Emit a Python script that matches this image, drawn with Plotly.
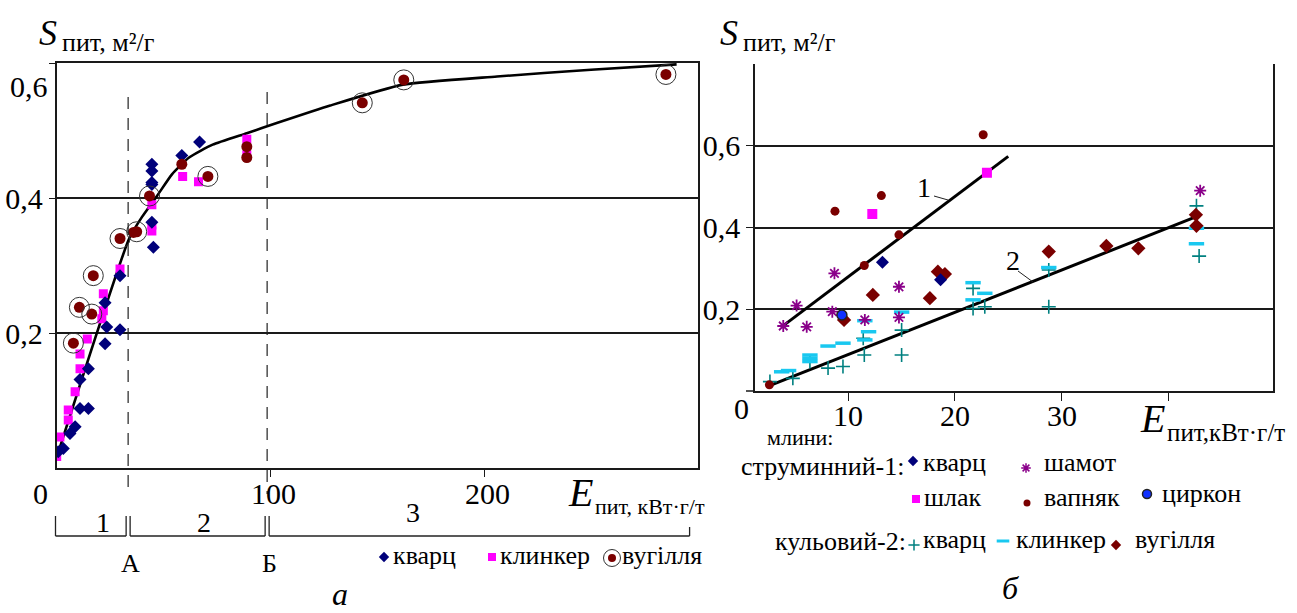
import plotly.graph_objects as go

W, H = 1297, 613
FONT = "Liberation Serif, Times New Roman, Times, DejaVu Serif, serif"
BLACK = "#1a1a1a"

# ---------------- panel a data ----------------
a_quartz_x = [0.8, 3.2, 6.3, 8.7, 11, 14.9, 11, 14.9, 22.7, 23.5, 29.7, 22.7, 29.7,
              44.6, 44.6, 45.3, 44.6, 44.6, 44.6, 58.6, 66.9]
a_quartz_y = [0.024, 0.029, 0.051, 0.061, 0.088, 0.088, 0.131, 0.147, 0.184, 0.209, 0.205, 0.245, 0.285,
              0.42, 0.364, 0.327, 0.45, 0.44, 0.423, 0.463, 0.483]
a_clinker_x = [0.1, 1.6, 5.5, 5.5, 8.7, 11, 11, 14.4, 21.2, 21.9, 21.9, 29.7, 44.6, 44.6, 44.6,
               59, 66.4, 89, 89]
a_clinker_y = [0.017, 0.046, 0.071, 0.086, 0.113, 0.147, 0.169, 0.191, 0.221, 0.233, 0.258, 0.295, 0.351, 0.36, 0.39,
               0.432, 0.424, 0.487, 0.464]
a_coal_x = [7.9, 10.7, 16.5, 17.2, 29.7, 36.0, 37.5, 43.5, 58.6, 70.8, 89, 89, 143, 162.4, 285]
a_coal_y = [0.185, 0.238, 0.228, 0.285, 0.34, 0.349, 0.35, 0.403, 0.45, 0.432, 0.476, 0.46, 0.541, 0.575, 0.583]
a_coal_circled = [1, 1, 1, 1, 1, 0, 1, 1, 0, 1, 0, 0, 1, 1, 1]
a_curve_x = [0, 34, 40, 47, 54, 62, 73, 89, 103, 128, 162, 206, 250, 290]
a_curve_y = [0.015, 0.34, 0.372, 0.403, 0.435, 0.46, 0.479, 0.496, 0.511, 0.537, 0.568, 0.58, 0.59, 0.598]
a_boundaries = [33.5, 98.5]
a_boundary_labels = ["А", "Б"]
a_zone_labels = ["1", "2", "3"]
a_xticks = [0, 100, 200]
a_xtick_text = ["0", "100", "200"]
a_yticks = [0.2, 0.4, 0.6]
a_ytick_text = ["0,2", "0,4", ""]

# ---------------- panel b data ----------------
b_quartz1_x = [13.2, 18.65]
b_quartz1_y = [0.315, 0.272]
b_chamotte_x = [3.9, 5.15, 6.1, 8.7, 8.5, 11.55, 14.75, 14.75, 43.0]
b_chamotte_y = [0.159, 0.209, 0.157, 0.288, 0.194, 0.174, 0.255, 0.18, 0.49]
b_slag_x = [12.25, 23.0]
b_slag_y = [0.433, 0.534]
b_lime_x = [22.65, 13.1, 8.75, 14.75, 11.5, 2.6]
b_lime_y = [0.627, 0.478, 0.44, 0.382, 0.307, 0.015]
b_zircon_x = [9.4]
b_zircon_y = [0.186]
b_quartz2_x = [2.65, 4.8, 6.4, 8.1, 9.5, 11.5, 11.4, 15.0, 15.0, 21.7, 21.7, 22.8, 28.8, 28.8, 42.65, 42.9]
b_quartz2_y = [0.023, 0.031, 0.072, 0.056, 0.06, 0.088, 0.129, 0.088, 0.149, 0.202, 0.251, 0.206, 0.206, 0.296, 0.453, 0.33]
b_clinker2_x = [3.75, 4.4, 6.4, 6.4, 6.4, 8.1, 9.5, 11.55, 11.9, 11.55, 15.0, 21.7, 21.7, 22.8, 28.8, 42.65, 42.65]
b_clinker2_y = [0.047, 0.05, 0.088, 0.08, 0.072, 0.11, 0.117, 0.125, 0.145, 0.172, 0.193, 0.265, 0.223, 0.239, 0.302, 0.398, 0.36]
b_coal2_x = [9.6, 12.3, 17.65, 18.4, 19.06, 28.8, 34.2, 37.2, 42.65, 42.6]
b_coal2_y = [0.174, 0.235, 0.227, 0.292, 0.286, 0.341, 0.355, 0.349, 0.404, 0.431]
b_line1_x = [3.75, 25.0]
b_line1_y = [0.157, 0.574]
b_line2_x = [2.5, 42.7]
b_line2_y = [0.012, 0.427]
b_xticks = [10, 20, 30, 40]
b_xtick_text = ["10", "20", "30", ""]
b_yticks = [0.2, 0.4, 0.6]
b_ytick_text = ["0,2", "0,4", "0,6"]

# ---------------- geometry (pixels) ----------------
A_L, A_R, A_B, A_T = 56.5, 698.0, 468.0, 63.0
A_XR, A_YR = [0, 300], [0, 0.6]
B_L, B_R, B_B, B_T = 755.0, 1272.7, 391.0, 64.0
B_XR, B_YR = [1.25, 49.8], [0, 0.8]


def ax_px(v):
    return A_L + (v - A_XR[0]) / (A_XR[1] - A_XR[0]) * (A_R - A_L)


def px(xp):
    return xp / W


def py(yp):
    return 1 - yp / H


NAVY = "#00007a"
MAGENTA = "#ff00ff"
DRED = "#7a0000"
PURPLE = "#8a008a"
TEAL = "#008080"
CYAN = "#19c8f0"

fig = go.Figure()

# ---- panel a ----
fig.add_trace(go.Scatter(x=a_curve_x, y=a_curve_y, mode="lines", line=dict(color="black", width=2.6, shape="spline", smoothing=0.5),
                         xaxis="x", yaxis="y", showlegend=False))
fig.add_trace(go.Scatter(x=a_clinker_x, y=a_clinker_y, mode="markers",
                         marker=dict(symbol="square", size=9, color=MAGENTA), xaxis="x", yaxis="y", showlegend=False))
fig.add_trace(go.Scatter(x=a_quartz_x, y=a_quartz_y, mode="markers",
                         marker=dict(symbol="diamond", size=10, color=NAVY), xaxis="x", yaxis="y", showlegend=False))
fig.add_trace(go.Scatter(x=a_coal_x, y=a_coal_y, mode="markers",
                         marker=dict(symbol="circle", size=11, color=DRED), xaxis="x", yaxis="y", showlegend=False))
cx = [x for x, c in zip(a_coal_x, a_coal_circled) if c]
cy = [y for y, c in zip(a_coal_y, a_coal_circled) if c]
fig.add_trace(go.Scatter(x=cx, y=cy, mode="markers",
                         marker=dict(symbol="circle-open", size=20, color="#333", line=dict(width=1, color="#333")),
                         xaxis="x", yaxis="y", showlegend=False))

# ---- panel b ----
fig.add_trace(go.Scatter(x=b_line1_x, y=b_line1_y, mode="lines", line=dict(color="black", width=3),
                         xaxis="x2", yaxis="y2", showlegend=False))
fig.add_trace(go.Scatter(x=b_line2_x, y=b_line2_y, mode="lines", line=dict(color="black", width=3),
                         xaxis="x2", yaxis="y2", showlegend=False))
fig.add_trace(go.Scatter(x=b_quartz2_x, y=b_quartz2_y, mode="markers",
                         marker=dict(symbol="cross-thin-open", size=10, color=TEAL, line=dict(width=1.6, color=TEAL)),
                         xaxis="x2", yaxis="y2", showlegend=False))
fig.add_trace(go.Scatter(x=b_clinker2_x, y=b_clinker2_y, mode="markers",
                         marker=dict(symbol="line-ew-open", size=11, color=CYAN, line=dict(width=3.5, color=CYAN)),
                         xaxis="x2", yaxis="y2", showlegend=False))
fig.add_trace(go.Scatter(x=b_chamotte_x, y=b_chamotte_y, mode="markers",
                         marker=dict(symbol="asterisk-open", size=10, color=PURPLE, line=dict(width=1.8, color=PURPLE)),
                         xaxis="x2", yaxis="y2", showlegend=False))
fig.add_trace(go.Scatter(x=b_coal2_x, y=b_coal2_y, mode="markers",
                         marker=dict(symbol="diamond", size=11, color=DRED), xaxis="x2", yaxis="y2", showlegend=False))
fig.add_trace(go.Scatter(x=b_lime_x, y=b_lime_y, mode="markers",
                         marker=dict(symbol="circle", size=9, color=DRED), xaxis="x2", yaxis="y2", showlegend=False))
fig.add_trace(go.Scatter(x=b_slag_x, y=b_slag_y, mode="markers",
                         marker=dict(symbol="square", size=10, color=MAGENTA), xaxis="x2", yaxis="y2", showlegend=False))
fig.add_trace(go.Scatter(x=b_quartz1_x, y=b_quartz1_y, mode="markers",
                         marker=dict(symbol="diamond", size=10, color=NAVY), xaxis="x2", yaxis="y2", showlegend=False))
fig.add_trace(go.Scatter(x=b_zircon_x, y=b_zircon_y, mode="markers",
                         marker=dict(symbol="circle", size=10, color="#1030ff", line=dict(width=1.5, color="#222")),
                         xaxis="x2", yaxis="y2", showlegend=False))

# ---- legend markers (pixel overlay axes) ----
def pmark(x, y, **m):
    fig.add_trace(go.Scatter(x=[x], y=[y], mode="markers", marker=m, xaxis="x3", yaxis="y3",
                             showlegend=False, hoverinfo="skip"))

pmark(384, 557, symbol="diamond", size=8, color=NAVY)
pmark(492, 557, symbol="square", size=8, color=MAGENTA)
pmark(612, 558, symbol="circle", size=8, color=DRED)
pmark(612, 558, symbol="circle-open", size=17, color="#333", line=dict(width=1, color="#333"))

pmark(913, 461, symbol="diamond", size=8, color=NAVY)
pmark(1026, 468, symbol="asterisk-open", size=8, color=PURPLE, line=dict(width=1.5, color=PURPLE))
pmark(916, 499, symbol="square", size=8, color=MAGENTA)
pmark(1027, 503, symbol="circle", size=7, color=DRED)
pmark(1147, 494, symbol="circle", size=9, color="#1030ff", line=dict(width=1.5, color="#222"))
pmark(914, 545, symbol="cross-thin-open", size=8, color=TEAL, line=dict(width=1.5, color=TEAL))
pmark(1003, 541, symbol="line-ew-open", size=9, color=CYAN, line=dict(width=3, color=CYAN))
pmark(1116, 545, symbol="diamond", size=8, color=DRED)

shapes = []
# dashed boundary lines А and Б
for b, top in zip(a_boundaries, [97, 92]):
    xb = ax_px(b)
    shapes.append(dict(type="line", xref="x3", yref="y3", x0=xb, x1=xb, y0=top, y1=494,
                       line=dict(color="#222", width=1.2, dash="12px,9px")))
# zone brackets
br_y, br_top = 536, 516
edges = [A_XR[0], a_boundaries[0], a_boundaries[1], 297]
gap = 2
segs = [(ax_px(edges[0]) - 1, ax_px(edges[1]) - gap),
        (ax_px(edges[1]) + gap, ax_px(edges[2]) - gap),
        (ax_px(edges[2]) + gap, ax_px(edges[3]) - 2)]
for i, (s0, s1) in enumerate(segs):
    shapes.append(dict(type="line", xref="x3", yref="y3", x0=s0, x1=s1, y0=br_y, y1=br_y, line=dict(color="#222", width=1.3)))
    shapes.append(dict(type="line", xref="x3", yref="y3", x0=s0, x1=s0, y0=br_y, y1=br_top, line=dict(color="#222", width=1.3)))
    shapes.append(dict(type="line", xref="x3", yref="y3", x0=s1, x1=s1, y0=br_y, y1=(br_top if i < 2 else 527),
                       line=dict(color="#222", width=1.3)))
# leader lines for regression labels
shapes.append(dict(type="line", xref="x3", yref="y3", x0=934, x1=948, y0=196, y1=200, line=dict(color="#222", width=1)))
shapes.append(dict(type="line", xref="x3", yref="y3", x0=1018, x1=1033, y0=271, y1=282, line=dict(color="#222", width=1)))
# short extension of the b x-axis line to the left of the y axis
shapes.append(dict(type="line", xref="x3", yref="y3", x0=746, x1=B_L, y0=B_B, y1=B_B, line=dict(color=BLACK, width=1.5)))

ann = []


def text(x, y, s, size=26, xanchor="center", italic=False):
    ann.append(dict(x=px(x), y=py(y), xref="paper", yref="paper", text=s, showarrow=False,
                    xanchor=xanchor, yanchor="middle",
                    font=dict(family=FONT, size=size, color="black", style="italic" if italic else "normal")))


def xtick_label(axref, val, s, ypix, dx=0):
    ann.append(dict(x=val, y=py(ypix), xref=axref, yref="paper", text=s, showarrow=False,
                    xanchor="center", yanchor="middle", xshift=dx,
                    font=dict(family=FONT, size=30, color="black")))


# x tick labels (placed like the reference, close to the axis)
for v, s in zip(a_xticks, a_xtick_text):
    xtick_label("x", v, s, 494, dx=(-16 if v == 0 else 3))
for v, s in zip(b_xticks, b_xtick_text):
    if s:
        xtick_label("x2", v, s, 415)

# panel a texts
text(48, 33, "S", 36, italic=True)
text(60, 42, "пит, м²/г", 26, xanchor="left")
text(29, 86, "0,6", 30)
text(580, 492, "E", 40, italic=True)
text(593, 507, "пит, кВт·г/т", 22, xanchor="left")
for lbl, xx in zip(a_zone_labels, [103, 204, 413]):
    text(xx, 522 if lbl != "3" else 512, lbl, 28)
for lbl, b in zip(a_boundary_labels, a_boundaries):
    text(ax_px(b) + 2, 563, lbl, 26)
text(340, 594, "а", 32, italic=True)
text(391, 555, "кварц", 26, xanchor="left")
text(498, 555, "клинкер", 26, xanchor="left")
text(620, 555, "вугілля", 26, xanchor="left")

# panel b texts
text(729, 33, "S", 36, italic=True)
text(741, 42, "пит, м²/г", 26, xanchor="left")
text(741, 408, "0", 30)
text(1152, 418, "E", 40, italic=True)
text(1165, 432, "пит,кВт·г/т", 25, xanchor="left")
text(924, 187, "1", 28)
text(1013, 260, "2", 28)
text(800, 437, "млини:", 22)
text(906, 466, "струминний-1:", 26, xanchor="right")
text(921, 462, "кварц", 26, xanchor="left")
text(1042, 462, "шамот", 26, xanchor="left")
text(922, 497, "шлак", 26, xanchor="left")
text(1042, 497, "вапняк", 26, xanchor="left")
text(1160, 493, "циркон", 26, xanchor="left")
text(908, 541, "кульовий-2:", 26, xanchor="right")
text(921, 539, "кварц", 26, xanchor="left")
text(1014, 539, "клинкер", 26, xanchor="left")
text(1133, 539, "вугілля", 26, xanchor="left")
text(1010, 588, "б", 32, italic=True)

tickfont = dict(family=FONT, size=30, color="black")
axis_common = dict(showline=True, linecolor=BLACK, linewidth=1.5, zeroline=False, ticks="outside",
                   tickcolor=BLACK, tickwidth=1.3, tickfont=tickfont, fixedrange=True)

fig.update_layout(
    width=W, height=H, margin=dict(l=0, r=0, t=0, b=0),
    paper_bgcolor="white", plot_bgcolor="rgba(0,0,0,0)",
    font=dict(family=FONT, color="black"),
    xaxis=dict(domain=[A_L / W, A_R / W], range=A_XR, anchor="y", mirror=True, showgrid=False,
               tickvals=a_xticks[1:], showticklabels=False, ticklen=7, **axis_common),
    yaxis=dict(domain=[1 - A_B / H, 1 - A_T / H], range=A_YR, anchor="x", mirror=True, showgrid=True,
               gridcolor=BLACK, gridwidth=1.5, tickvals=a_yticks, ticktext=a_ytick_text, ticklen=6, **axis_common),
    xaxis2=dict(domain=[B_L / W, B_R / W], range=B_XR, anchor="y2", mirror=False, showgrid=False,
                tickvals=b_xticks, showticklabels=False, ticklen=8, **axis_common),
    yaxis2=dict(domain=[1 - B_B / H, 1 - B_T / H], range=B_YR, anchor="x2", mirror=True, showgrid=True,
                gridcolor=BLACK, gridwidth=1.5, tickvals=b_yticks, ticktext=b_ytick_text, ticklen=7, **axis_common),
    xaxis3=dict(domain=[0, 1], range=[0, W], anchor="y3", visible=False, fixedrange=True),
    yaxis3=dict(domain=[0, 1], range=[H, 0], anchor="x3", visible=False, fixedrange=True),
    shapes=shapes, annotations=ann, showlegend=False,
)

fig.write_html("out.html")
